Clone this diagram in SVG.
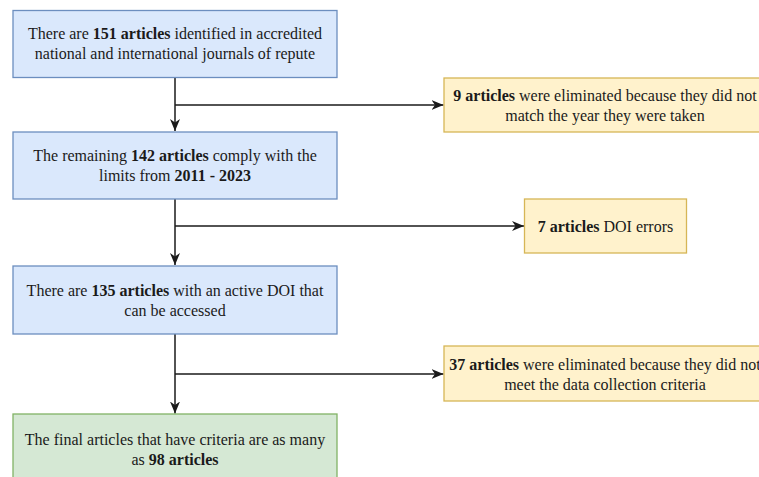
<svg xmlns="http://www.w3.org/2000/svg" width="759" height="477" viewBox="0 0 759 477">
<style>
text{font-family:"Liberation Serif","Times New Roman",serif;font-size:16px;fill:#1a1a1a;text-anchor:middle}
.b{font-weight:bold}
.blue{fill:#dae8fc;stroke:#6c8ebf;stroke-width:1.3}
.yel{fill:#fff2cc;stroke:#d6b656;stroke-width:1.3}
.grn{fill:#d5e8d4;stroke:#82b366;stroke-width:1.3}
.ln{fill:none;stroke:#1a1a1a;stroke-width:1.5}
</style>
<defs>
<marker id="ah" markerUnits="userSpaceOnUse" markerWidth="14" markerHeight="14" viewBox="0 0 14 14" refX="12" refY="7" orient="auto">
<path d="M0,2 L12,7 L0,12 L3.5,7 z" fill="#1a1a1a"/>
</marker>
</defs>
<rect width="759" height="477" fill="#ffffff"/>
<g id="connectors">
<path class="ln" d="M175,77.5 V131" marker-end="url(#ah)"/>
<path class="ln" d="M175,105 H443.5" marker-end="url(#ah)"/>
<path class="ln" d="M175,199 V265" marker-end="url(#ah)"/>
<path class="ln" d="M175,226 H524" marker-end="url(#ah)"/>
<path class="ln" d="M175,334 V413.5" marker-end="url(#ah)"/>
<path class="ln" d="M175,374 H443.5" marker-end="url(#ah)"/>
</g>
<g id="n1">
<rect class="blue" x="13" y="10.5" width="324" height="67"/>
<text x="175" y="39">There are <tspan class="b">151 articles</tspan> identified in accredited</text>
<text x="175" y="59">national and international journals of repute</text>
</g>
<g id="n2">
<rect class="yel" x="444" y="78" width="324" height="54"/>
<text x="605" y="100.5"><tspan class="b">9 articles</tspan> were eliminated because they did not</text>
<text x="605" y="120.5">match the year they were taken</text>
</g>
<g id="n3">
<rect class="blue" x="13" y="132" width="324" height="67"/>
<text x="175" y="161">The remaining <tspan class="b">142 articles</tspan> comply with the</text>
<text x="175" y="181">limits from <tspan class="b">2011 - 2023</tspan></text>
</g>
<g id="n4">
<rect class="yel" x="524.5" y="199" width="162" height="54"/>
<text x="605.5" y="231.5"><tspan class="b">7 articles</tspan> DOI errors</text>
</g>
<g id="n5">
<rect class="blue" x="13" y="266" width="324" height="68"/>
<text x="175" y="296">There are <tspan class="b">135 articles</tspan> with an active DOI that</text>
<text x="175" y="316">can be accessed</text>
</g>
<g id="n6">
<rect class="yel" x="444" y="346" width="324" height="55"/>
<text x="605" y="369.5"><tspan class="b">37 articles</tspan> were eliminated because they did not</text>
<text x="605" y="389.5">meet the data collection criteria</text>
</g>
<g id="n7">
<rect class="grn" x="13" y="414" width="324" height="68"/>
<text x="175" y="445">The final articles that have criteria are as many</text>
<text x="175" y="465">as <tspan class="b">98 articles</tspan></text>
</g>
</svg>
